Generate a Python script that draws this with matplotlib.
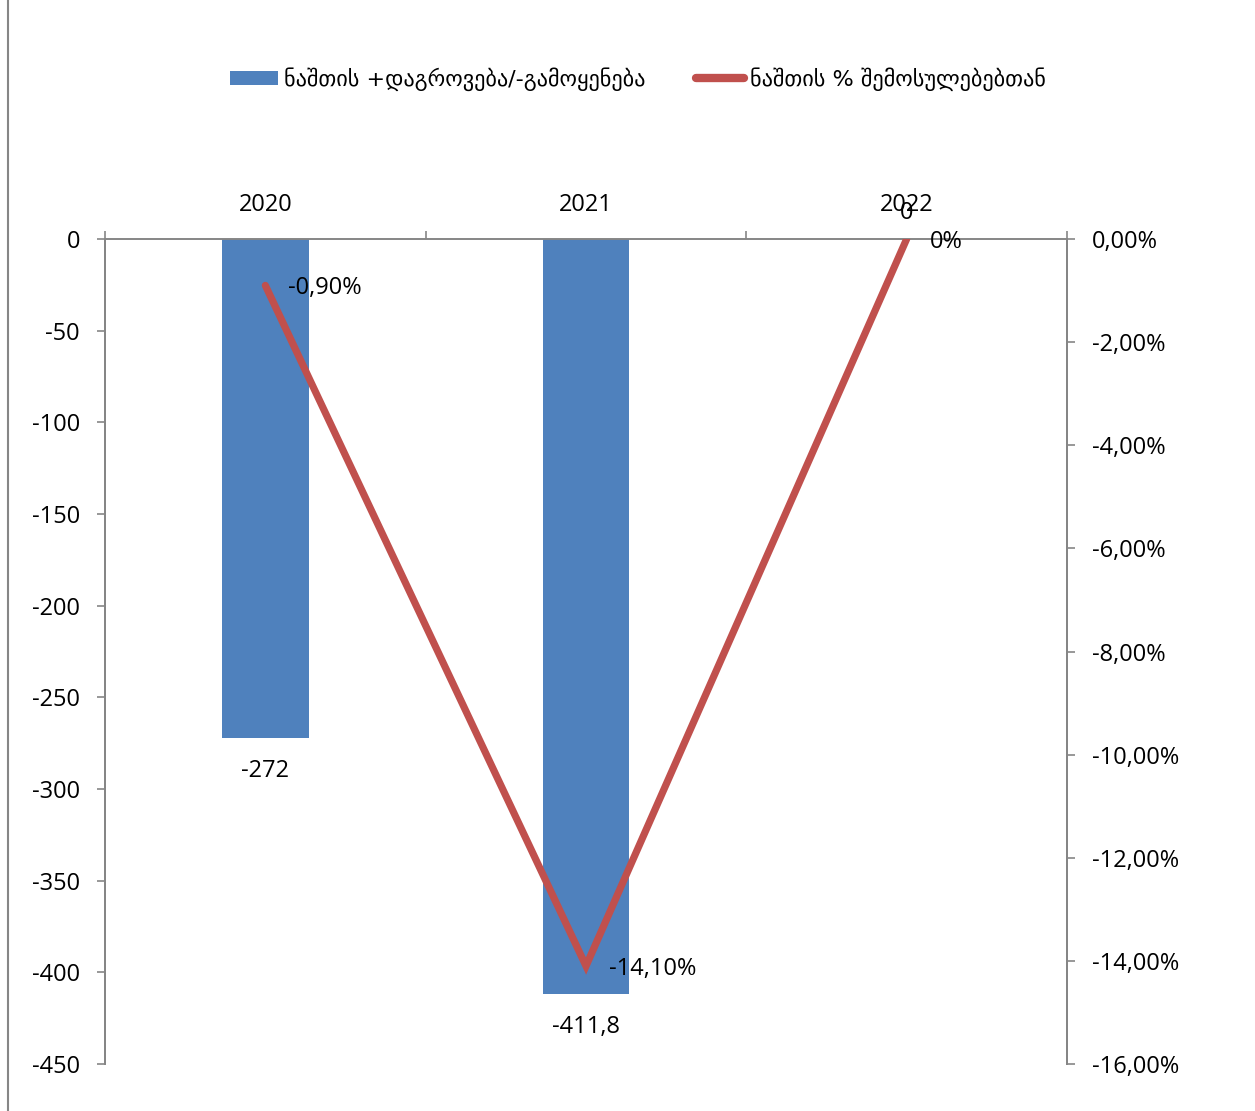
import matplotlib
matplotlib.use("Agg")
import matplotlib.pyplot as plt
from matplotlib.lines import Line2D
from matplotlib.patches import Patch
from matplotlib.ticker import FuncFormatter, FixedLocator, NullFormatter

plt.rcParams['font.family'] = ['Open Sans', 'DejaVu Sans']

categories = ['2020', '2021', '2022']
balance = [-272, -411.8, 0]
balance_labels = ['-272', '-411,8', '0']
pct = [-0.90, -14.10, 0.0]
pct_labels = ['-0,90%', '-14,10%', '0%']
series_names = ['ნაშთის +დაგროვება/-გამოყენება', 'ნაშთის % შემოსულებებთან']

BLUE = '#4F81BD'
RED = '#C0504D'
GRAY = '#868686'
FS = 17

W, H = 1255, 1111
fig = plt.figure(figsize=(W / 100, H / 100), dpi=100)
ax = fig.add_axes([105 / W, 1 - 1064 / H, (1067 - 105) / W, (1064 - 239) / H])
ax2 = ax.twinx()

x = list(range(len(categories)))
ax.bar(x, balance, width=0.27, color=BLUE, zorder=2)
ax.set_xlim(-0.5, 2.5)
ax.set_ylim(-450, 0)
ax.set_yticks(range(-450, 1, 50))
ax.yaxis.set_major_formatter(FuncFormatter(lambda v, p: f"{int(v)}"))

ax.xaxis.tick_top()
ax.xaxis.set_major_locator(FixedLocator(x))
ax.set_xticklabels(categories)
ax.xaxis.set_minor_locator(FixedLocator([-0.5, 0.5, 1.5, 2.5]))
ax.xaxis.set_minor_formatter(NullFormatter())
ax.tick_params(axis='x', which='major', length=0, pad=16, labelsize=FS)
ax.tick_params(axis='x', which='minor', length=6, width=1.2, color=GRAY, direction='out')
ax.tick_params(axis='y', length=6, width=1.2, color=GRAY, pad=12, labelsize=FS)

ax2.plot(x, pct, color=RED, lw=5.2, solid_capstyle='round', solid_joinstyle='miter', zorder=3)
ax2.set_ylim(-16, 0)
ax2.set_yticks(range(-16, 1, 2))
ax2.yaxis.set_major_formatter(FuncFormatter(lambda v, p: f"{v:.2f}%".replace('.', ',')))
ax2.tick_params(axis='y', length=6, width=1.2, color=GRAY, pad=12, labelsize=FS)

for a in (ax, ax2):
    for s in a.spines.values():
        s.set_color(GRAY)
        s.set_linewidth(1.4)
    a.spines['bottom'].set_visible(False)
ax2.spines['top'].set_visible(False)

# bar data labels
for xi, v, lab in zip(x, balance, balance_labels):
    off = -33 if v < 0 else 26
    ax.annotate(lab, (xi, v), xytext=(0, off), textcoords='offset pixels',
                ha='center', va='center', fontsize=FS, zorder=5)

# line data labels
for xi, v, lab in zip(x, pct, pct_labels):
    ax2.annotate(lab, (xi, v), xytext=(23, -3), textcoords='offset pixels',
                 ha='left', va='center', fontsize=FS, zorder=5)

handles = [Patch(facecolor=BLUE, edgecolor='none'),
           Line2D([0], [0], color=RED, lw=6, solid_capstyle='round')]
fig.legend(handles, series_names, loc='center', bbox_to_anchor=(638 / W, 1 - 79 / H),
           ncol=2, frameon=False, prop={'family': ['DejaVu Sans'], 'size': 16},
           handlelength=2.16, handleheight=0.55, handletextpad=0.27, columnspacing=2.25)

fig.add_artist(Line2D([8 / W, 8 / W], [0, 1], color=GRAY, lw=1.5, transform=fig.transFigure))

fig.savefig('out.png', dpi=100)
